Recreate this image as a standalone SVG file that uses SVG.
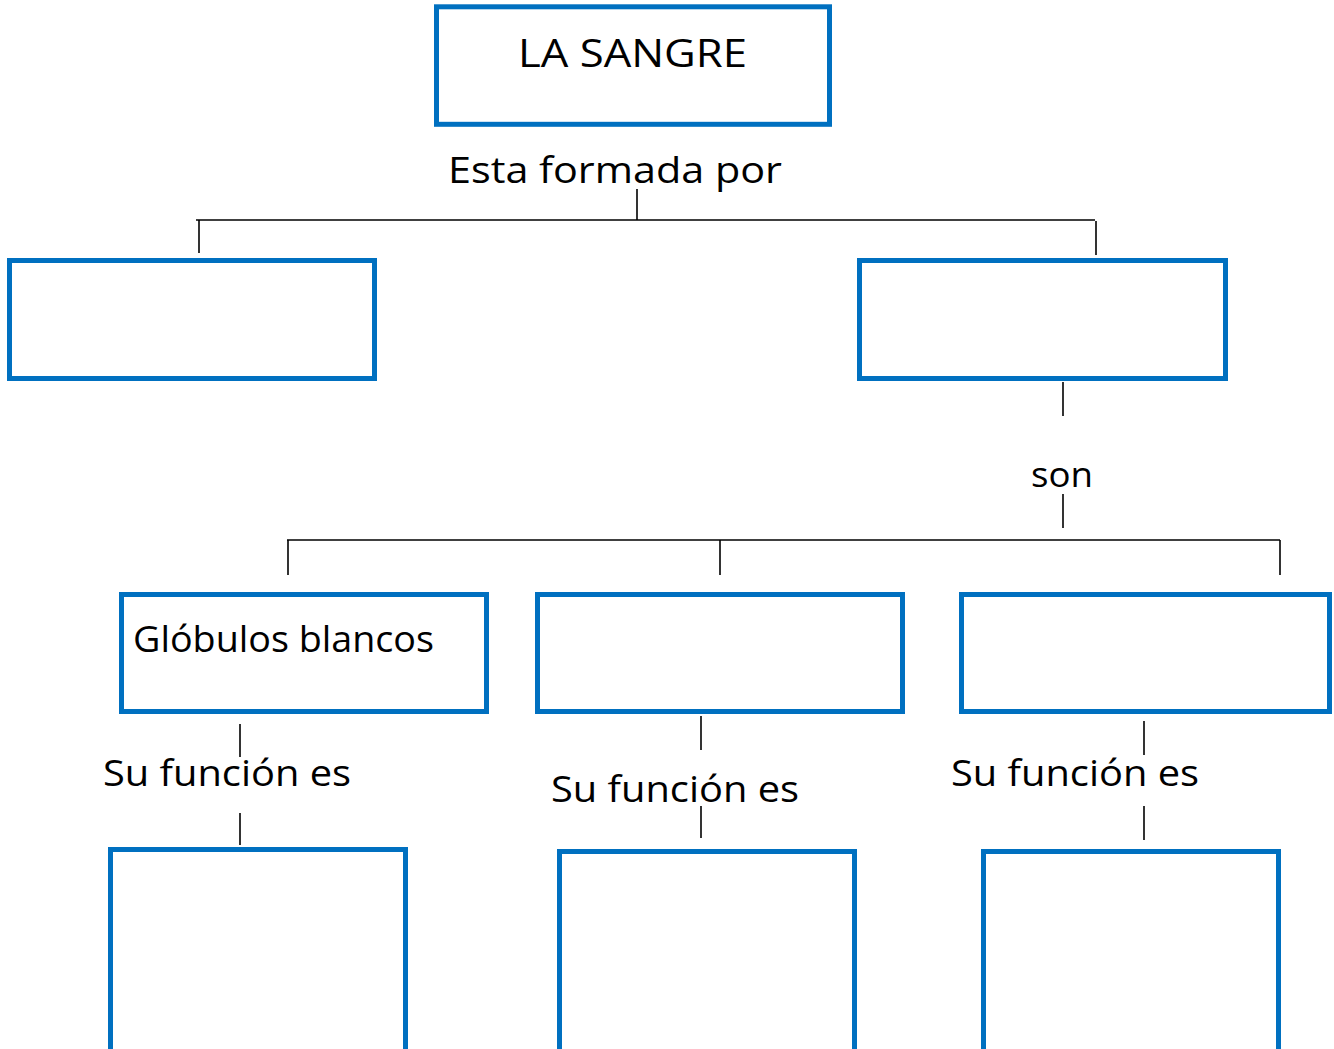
<svg xmlns="http://www.w3.org/2000/svg" width="1334" height="1049" viewBox="0 0 1334 1049">
<style>
.box{fill:#fff;stroke:#0070C0;stroke-width:5}
.ln{stroke:#000;stroke-width:1.6;fill:none}
.t{font-family:"Open Sans","DejaVu Sans",sans-serif;fill:#000}
</style>
<rect width="1334" height="1049" fill="#fff"/>
<g id="connectors">
<line class="ln" x1="637" y1="189" x2="637" y2="220"/>
<line class="ln" x1="196" y1="220" x2="1095" y2="220"/>
<line class="ln" x1="199" y1="220" x2="199" y2="253"/>
<line class="ln" x1="1096" y1="221" x2="1096" y2="255"/>
<line class="ln" x1="1063" y1="382" x2="1063" y2="416"/>
<line class="ln" x1="1063" y1="494" x2="1063" y2="528"/>
<line class="ln" x1="287" y1="540" x2="1280" y2="540"/>
<line class="ln" x1="288" y1="540" x2="288" y2="575"/>
<line class="ln" x1="720" y1="540" x2="720" y2="575"/>
<line class="ln" x1="1280" y1="540" x2="1280" y2="575"/>
<line class="ln" x1="240" y1="724" x2="240" y2="757"/>
<line class="ln" x1="240" y1="813" x2="240" y2="845"/>
<line class="ln" x1="701" y1="716" x2="701" y2="750"/>
<line class="ln" x1="701" y1="806" x2="701" y2="838"/>
<line class="ln" x1="1144" y1="721" x2="1144" y2="755"/>
<line class="ln" x1="1144" y1="806" x2="1144" y2="840"/>
</g>
<g id="la-sangre"><rect class="box" x="436.5" y="6.8" width="393" height="117.5"/>
<text class="t" x="518" y="67" font-size="38" textLength="229" lengthAdjust="spacingAndGlyphs">LA SANGRE</text></g>
<g id="lbl-esta"><text class="t" x="448" y="183" font-size="36" textLength="334" lengthAdjust="spacingAndGlyphs">Esta formada por</text></g>
<g id="box-left"><rect class="box" x="9.5" y="260.5" width="365" height="118"/></g>
<g id="box-right"><rect class="box" x="859.5" y="260.5" width="366" height="118"/></g>
<g id="lbl-son"><text class="t" x="1031" y="487" font-size="34" textLength="62" lengthAdjust="spacingAndGlyphs">son</text></g>
<g id="globulos-blancos"><rect class="box" x="121.5" y="594.5" width="365" height="117"/>
<text class="t" x="133" y="652" font-size="36" textLength="301" lengthAdjust="spacingAndGlyphs">Glóbulos blancos</text></g>
<g id="box-mid"><rect class="box" x="537.5" y="594.5" width="365" height="117"/></g>
<g id="box-r3"><rect class="box" x="961.5" y="594.5" width="368" height="117"/></g>
<g id="lbl-f1"><text class="t" x="103" y="786" font-size="36" textLength="248" lengthAdjust="spacingAndGlyphs">Su función es</text></g>
<g id="lbl-f2"><text class="t" x="551" y="802" font-size="36" textLength="248" lengthAdjust="spacingAndGlyphs">Su función es</text></g>
<g id="lbl-f3"><text class="t" x="951" y="786" font-size="36" textLength="248" lengthAdjust="spacingAndGlyphs">Su función es</text></g>
<g id="bot1"><rect class="box" x="110.5" y="849.5" width="295" height="230"/></g>
<g id="bot2"><rect class="box" x="559.5" y="851.5" width="295" height="230"/></g>
<g id="bot3"><rect class="box" x="983.5" y="851.5" width="295" height="230"/></g>
</svg>
